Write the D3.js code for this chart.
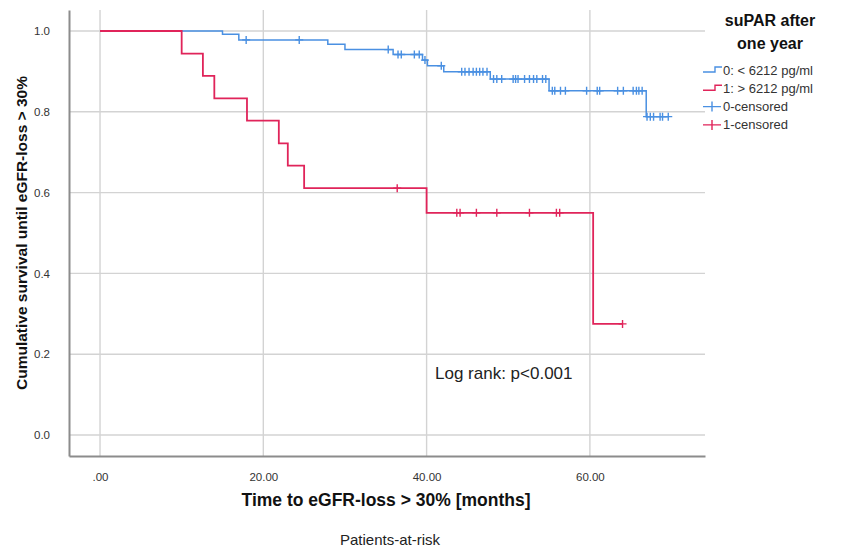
<!DOCTYPE html>
<html>
<head>
<meta charset="utf-8">
<script src="https://cdn.jsdelivr.net/npm/d3@7"></script>
<style>
  body { margin:0; background:#fff; }
  svg { display:block; font-family:"Liberation Sans", Arial, sans-serif; }
</style>
</head>
<body>
<div id="chart"></div>
<script>
// Kaplan-Meier: suPAR after one year

const X_TICKS       = [0, 20, 40, 60];
const X_TICK_LABELS = [".00", "20.00", "40.00", "60.00"];
const Y_TICKS       = [0, 0.2, 0.4, 0.6, 0.8, 1.0];

const GROUPS        = ["0: < 6212 pg/ml", "1: > 6212 pg/ml"];
const CENSOR_LABELS = ["0-censored", "1-censored"];

// grupo 0 (azul)
const lowTimes    = [0, 15.0, 17.0, 27.9, 30.0, 35.9, 39.5, 40.1, 42.1, 47.8, 55.0, 66.9];
const lowSurv     = [1.0, 0.992, 0.978, 0.967, 0.954, 0.942, 0.928, 0.914, 0.899, 0.881, 0.852, 0.788];
const lowEnd      = 69.6;
const lowCensored = [17.9, 24.4, 35.3, 36.5, 36.9, 38.5, 39.1, 39.8, 41.8,
                     44.3, 44.7, 45.2, 45.7, 46.1, 46.5, 46.9, 47.4, 48.2, 48.6, 49.2,
                     50.6, 50.9, 51.2, 52.0, 52.6, 53.1, 53.5, 54.2, 54.6,
                     55.4, 55.7, 56.4, 57.0, 59.6, 60.9, 61.2, 63.4, 64.1,
                     65.3, 65.7, 66.0, 66.4, 67.0, 67.4, 67.8, 68.6, 68.9, 69.6];

// grupo 1 (rojo)
const highTimes    = [0, 10.0, 12.6, 14.0, 18.0, 21.9, 23.0, 25.0, 40.0, 60.4];
const highSurv     = [1.0, 0.944, 0.889, 0.833, 0.778, 0.722, 0.667, 0.611, 0.550, 0.275];
const highEnd      = 64.0;
const highCensored = [36.4, 43.7, 44.1, 46.1, 48.6, 52.6, 55.9, 56.3, 64.0];

const COLORS = ["#4a90e2", "#e0245a"];

const width = 843, height = 549;
const svg = d3.select("#chart").append("svg")
  .attr("width", width).attr("height", height);
svg.append("rect").attr("width", width).attr("height", height).attr("fill", "#fff");

const x = d3.scaleLinear().domain([-3.8, 74.1]).range([69, 705]);
const y = d3.scaleLinear().domain([-0.052, 1.052]).range([456, 10]);

// Rejilla
const grid = svg.append("g").attr("stroke", "#d3d3d3").attr("stroke-width", 1.4);
grid.selectAll("line.v").data(X_TICKS).join("line").attr("class", "v")
  .attr("x1", d => x(d)).attr("x2", d => x(d)).attr("y1", y.range()[1]).attr("y2", y.range()[0]);
grid.selectAll("line.h").data(Y_TICKS).join("line").attr("class", "h")
  .attr("x1", x.range()[0]).attr("x2", x.range()[1]).attr("y1", d => y(d)).attr("y2", d => y(d));

// Ejes
const xAxis = svg.append("g").attr("transform", `translate(0,${y.range()[0]})`)
  .call(d3.axisBottom(x).tickValues(X_TICKS).tickSize(0).tickPadding(17)
    .tickFormat((d, i) => X_TICK_LABELS[i]));
const yAxis = svg.append("g").attr("transform", `translate(${x.range()[0]},0)`)
  .call(d3.axisLeft(y).tickValues(Y_TICKS).tickSize(0).tickPadding(19).tickFormat(d3.format(".1f")));
[xAxis, yAxis].forEach(a => {
  a.select(".domain").attr("stroke", "#8c8c8c").attr("stroke-width", 2);
  a.selectAll("text").attr("fill", "#333").attr("font-size", 11.5);
});

// Curvas
const line = d3.line().x(d => x(d[0])).y(d => y(d[1])).curve(d3.curveStepAfter);
function survAt(times, surv, t) {
  return surv[d3.bisectRight(times, t) - 1];
}
const series = [
  { times: lowTimes,  surv: lowSurv,  end: lowEnd,  cens: lowCensored,  width: 1.5 },
  { times: highTimes, surv: highSurv, end: highEnd, cens: highCensored, width: 1.8 }
];
series.forEach((s, i) => {
  const pts = s.times.map((t, k) => [t, s.surv[k]]).concat([[s.end, s.surv[s.surv.length - 1]]]);
  svg.append("path").attr("d", line(pts)).attr("fill", "none")
    .attr("stroke", COLORS[i]).attr("stroke-width", s.width);
  const g = svg.append("g").attr("stroke", COLORS[i]).attr("stroke-width", 1.4);
  g.selectAll("path").data(s.cens).join("path")
    .attr("d", t => {
      const cx = x(t), cy = y(survAt(s.times, s.surv, t));
      return `M${cx},${cy - 4}V${cy + 4}M${cx - 4},${cy}H${cx + 4}`;
    });
});

// Texto
svg.append("text").attr("x", 435).attr("y", 373).attr("dy", "0.35em")
  .attr("font-size", 17).attr("fill", "#222").text("Log rank: p<0.001");

svg.append("text").attr("x", 386).attr("y", 500).attr("dy", "0.35em")
  .attr("text-anchor", "middle").attr("font-size", 17.5).attr("font-weight", "bold")
  .attr("fill", "#111").text("Time to eGFR-loss > 30% [months]");

svg.append("text").attr("transform", "translate(22,233) rotate(-90)").attr("dy", "0.35em")
  .attr("text-anchor", "middle").attr("font-size", 15.5).attr("font-weight", "bold")
  .attr("fill", "#111").text("Cumulative survival until eGFR-loss > 30%");

svg.append("text").attr("x", 390).attr("y", 540).attr("dy", "0.35em")
  .attr("text-anchor", "middle").attr("font-size", 15).attr("fill", "#222")
  .text("Patients-at-risk");

// Leyenda
const legend = svg.append("g");
legend.selectAll("text.title").data(["suPAR after", "one year"]).join("text").attr("class", "title")
  .attr("x", 770).attr("y", (d, i) => 20 + i * 23).attr("dy", "0.35em")
  .attr("text-anchor", "middle").attr("font-size", 16).attr("font-weight", "bold")
  .attr("fill", "#111").text(d => d);

const items = GROUPS.map((d, i) => ({ label: d, color: COLORS[i], kind: "step" }))
  .concat(CENSOR_LABELS.map((d, i) => ({ label: d, color: COLORS[i], kind: "cross" })));
const rows = legend.selectAll("g.item").data(items).join("g").attr("class", "item")
  .attr("transform", (d, i) => `translate(703,${70 + i * 18.3})`);
rows.append("path")
  .attr("d", d => d.kind === "step" ? "M0,2H12V-3H19" : "M0,0H18M9,-5V5")
  .attr("fill", "none").attr("stroke", d => d.color).attr("stroke-width", 1.4);
rows.append("text").attr("x", 20).attr("dy", "0.35em").attr("font-size", 13)
  .attr("fill", "#333").text(d => d.label);
</script>
</body>
</html>
